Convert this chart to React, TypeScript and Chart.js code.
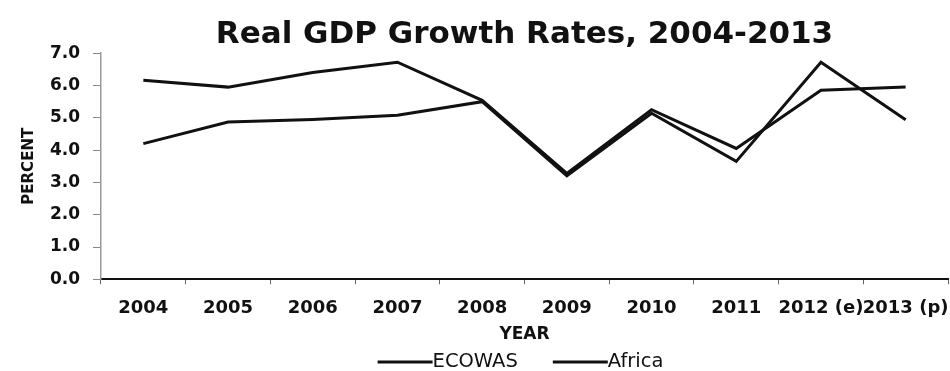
import React, { useEffect, useRef } from "react";
import { Chart, registerables } from "chart.js";

Chart.register(...registerables);

const categories = ["2004", "2005", "2006", "2007", "2008", "2009", "2010", "2011", "2012 (e)", "2013 (p)"];
const ecowasValues = [6.16, 5.95, 6.4, 6.72, 5.54, 3.28, 5.25, 4.05, 5.85, 5.95];
const africaValues = [4.2, 4.87, 4.95, 5.08, 5.5, 3.2, 5.14, 3.65, 6.72, 4.94];
const seriesNames = ["ECOWAS", "Africa"];
const titleText = "Real GDP Growth Rates, 2004-2013";
const xTitle = "YEAR";
const yTitle = "PERCENT";
const yMin = 0;
const yMax = 7;
const yStep = 1;

const FONT = "'DejaVu Sans', sans-serif";

const lineLegend = {
  id: "lineLegend",
  afterDraw(chart: any) {
    const { ctx, chartArea } = chart;
    const fontSize = 19.5;
    const lineLen = 55;
    const itemGap = 35;
    ctx.save();
    ctx.font = `normal ${fontSize}px ${FONT}`;
    ctx.textBaseline = "middle";
    ctx.textAlign = "left";
    const items = chart.data.datasets.map((d: any) => ({
      text: d.label,
      color: d.borderColor,
      w: lineLen + ctx.measureText(d.label).width,
    }));
    const total = items.reduce((s: number, it: any) => s + it.w, 0) + itemGap * (items.length - 1);
    let x = (chartArea.left + chartArea.right) / 2 - total / 2 - 4;
    const y = chart.height - 9;
    items.forEach((it: any) => {
      ctx.strokeStyle = it.color;
      ctx.lineWidth = 3;
      ctx.beginPath();
      ctx.moveTo(x, y);
      ctx.lineTo(x + lineLen, y);
      ctx.stroke();
      ctx.fillStyle = "#111";
      ctx.fillText(it.text, x + lineLen, y);
      x += it.w + itemGap;
    });
    ctx.restore();
  },
};

export default function App() {
  const canvasRef = useRef<HTMLCanvasElement | null>(null);

  useEffect(() => {
    if (!canvasRef.current) return;
    const chart = new Chart(canvasRef.current, {
      type: "line",
      data: {
        labels: categories,
        datasets: [
          {
            label: seriesNames[0],
            data: ecowasValues,
            borderColor: "#111",
            backgroundColor: "#111",
            borderWidth: 3,
            pointRadius: 0,
            tension: 0,
          },
          {
            label: seriesNames[1],
            data: africaValues,
            borderColor: "#111",
            backgroundColor: "#111",
            borderWidth: 3,
            pointRadius: 0,
            tension: 0,
          },
        ],
      },
      options: {
        responsive: false,
        animation: false,
        devicePixelRatio: 1,
        layout: { padding: { left: 0, right: 2, top: 0, bottom: 24 } },
        plugins: {
          legend: { display: false },
          tooltip: { enabled: false },
          title: {
            display: true,
            text: titleText,
            fullSize: false,
            color: "#111",
            font: { family: FONT, size: 31, weight: "bold", lineHeight: 1.2 },
            padding: { top: 16, bottom: 0 },
          },
        },
        scales: {
          x: {
            type: "category",
            offset: true,
            grid: {
              display: true,
              drawOnChartArea: false,
              drawTicks: true,
              tickLength: 5,
              offset: true,
              color: "#666",
            },
            border: { display: true, color: "#111", width: 2 },
            ticks: {
              autoSkip: false,
              maxRotation: 0,
              minRotation: 0,
              padding: 13,
              color: "#111",
              font: { family: FONT, size: 18, weight: "bold" },
            },
            title: {
              display: true,
              text: xTitle,
              color: "#111",
              font: { family: FONT, size: 17, weight: "bold", lineHeight: 1.2 },
              padding: { top: 0, bottom: 2 },
            },
            afterFit: (s: any) => {
              s.height = 67.7;
              s.paddingLeft = 0;
              s.paddingRight = 0;
            },
          },
          y: {
            min: yMin,
            max: yMax,
            grid: {
              display: true,
              drawOnChartArea: false,
              drawTicks: true,
              tickLength: 8,
              color: "#888",
            },
            border: { display: true, color: "#999", width: 1.5 },
            ticks: {
              stepSize: yStep,
              padding: 13,
              color: "#111",
              font: { family: FONT, size: 17, weight: "bold" },
              callback: (v: any) => Number(v).toFixed(1),
            },
            title: {
              display: true,
              text: yTitle,
              color: "#111",
              font: { family: FONT, size: 15, weight: "bold", lineHeight: 1.2 },
              padding: { top: 20, bottom: 0 },
            },
            afterFit: (s: any) => {
              s.width = 101;
            },
          },
        },
      },
      plugins: [lineLegend],
    });
    return () => chart.destroy();
  }, []);

  return (
    <div style={{ position: "absolute", left: 0, top: 0, width: 950, height: 371, background: "#fff" }}>
      <canvas ref={canvasRef} width={950} height={371} />
    </div>
  );
}
